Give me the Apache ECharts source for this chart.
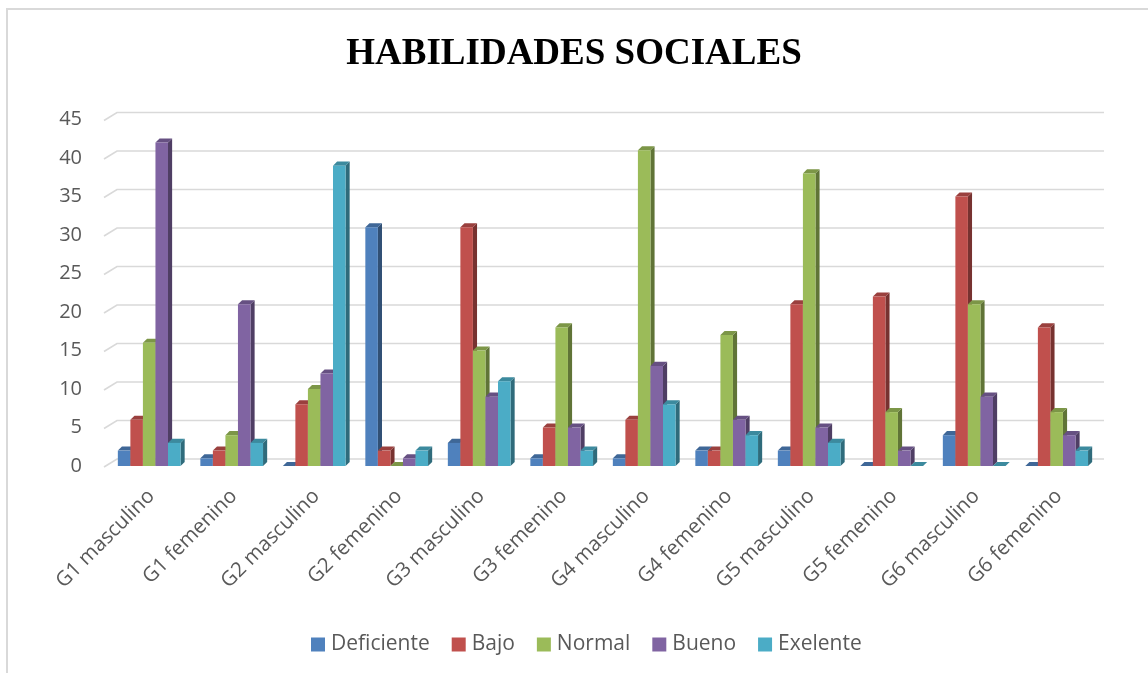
<!DOCTYPE html>
<html>
<head>
<meta charset="utf-8">
<script src="https://cdn.jsdelivr.net/npm/echarts@6/dist/echarts.min.js"></script>
<style>
html,body{margin:0;padding:0;background:#fff;}
#c{width:1148px;height:673px;}
</style>
</head>
<body>
<div id="c"></div>
<script>
const categories = ["G1 masculino","G1 femenino","G2 masculino","G2 femenino","G3 masculino","G3 femenino","G4 masculino","G4 femenino","G5 masculino","G5 femenino","G6 masculino","G6 femenino"];
const seriesNames = ["Deficiente","Bajo","Normal","Bueno","Exelente"];
const deficiente = [2,1,0,31,3,1,1,2,2,0,4,0];
const bajo       = [6,2,8,2,31,5,6,2,21,22,35,18];
const normal     = [16,4,10,0,15,18,41,17,38,7,21,7];
const bueno      = [42,21,12,1,9,5,13,6,5,2,9,4];
const exelente   = [3,3,39,2,11,2,8,4,3,0,0,2];
const yTicks = [0,5,10,15,20,25,30,35,40,45];

const values = [deficiente,bajo,normal,bueno,exelente];
const colors = ["#4F81BD","#C0504D","#9BBB59","#8064A2","#4BACC6"];

function shade(hex, f){
  const n = parseInt(hex.slice(1),16);
  let r=(n>>16)&255,g=(n>>8)&255,b=n&255;
  r=Math.round(r*f);g=Math.round(g*f);b=Math.round(b*f);
  return "rgb("+r+","+g+","+b+")";
}

function makeRender(s){
  return function(params, api){
    const ci = api.value(0), v = api.value(1);
    const top = api.coord([ci, v]);
    const base = api.coord([ci, 0]);
    const band = api.size([1,0])[0];
    const w = band*0.152, d = band*0.05, dy = band*0.05;
    const groupW = 5*w + d;
    const x0 = top[0] - groupW/2 + s*w;
    const yt = top[1], yb = base[1];
    const c = colors[s];
    return {
      type:'group',
      children:[
        {type:'polygon', shape:{points:[[x0+w,yt],[x0+w+d,yt-dy],[x0+w+d,yb-dy],[x0+w,yb]]}, style:{fill:shade(c,0.62)}},
        {type:'polygon', shape:{points:[[x0,yt],[x0+d,yt-dy],[x0+w+d,yt-dy],[x0+w,yt]]}, style:{fill:shade(c,0.8)}},
        {type:'rect', shape:{x:x0,y:yt,width:w,height:yb-yt}, style:{fill:c}}
      ]
    };
  };
}

const series = seriesNames.map((name,s)=>({
  name:name,
  type:'custom',
  renderItem: makeRender(s),
  itemStyle:{color:colors[s]},
  encode:{x:0,y:1},
  z:3,
  data: values[s].map((v,i)=>[i,v])
}));

series.unshift({
  name:'_grid',
  type:'custom',
  silent:true,
  z:1,
  encode:{x:0,y:1},
  renderItem:function(params, api){
    const cs = params.coordSys;
    const y = api.coord([0, api.value(1)])[1];
    return {type:'polyline', shape:{points:[[cs.x-6,y+1],[cs.x+7,y-7],[cs.x+cs.width+4,y-7]]},
      style:{stroke:'#d9d9d9', lineWidth:1.6, fill:null}};
  },
  data: yTicks.map(v=>[0,v])
});

const chart = echarts.init(document.getElementById('c'));
chart.setOption({
  animation:false,
  backgroundColor:'#fff',
  graphic:[{type:'rect', shape:{x:7,y:9,width:1200,height:700}, style:{fill:'none',stroke:'#d9d9d9',lineWidth:2}, z:-10}],
  title:{text:'HABILIDADES SOCIALES', left:'center', top:31,
    textStyle:{fontFamily:'Liberation Serif', fontWeight:'bold', fontSize:37, color:'#000'}},
  legend:{data:seriesNames, bottom:13, left:306, icon:'rect', itemWidth:14, itemHeight:14, itemGap:22,
    textStyle:{fontFamily:'Open Sans', fontSize:21, color:'#595959', padding:[0,0,0,1]}},
  grid:{left:110, right:48, top:119.5, bottom:207},
  xAxis:{type:'category', data:categories,
    axisLine:{show:false}, axisTick:{show:false},
    axisLabel:{rotate:45, interval:0, margin:27, fontFamily:'Open Sans', fontSize:20.5, color:'#595959'}},
  yAxis:{type:'value', min:0, max:45, interval:5,
    axisLine:{show:false}, axisTick:{show:false},
    splitLine:{show:false},
    axisLabel:{margin:28, fontFamily:'Open Sans', fontSize:20, color:'#595959',
      formatter:(v)=> yTicks.includes(v) ? String(v) : ''}},
  series:series
});
</script>
</body>
</html>
